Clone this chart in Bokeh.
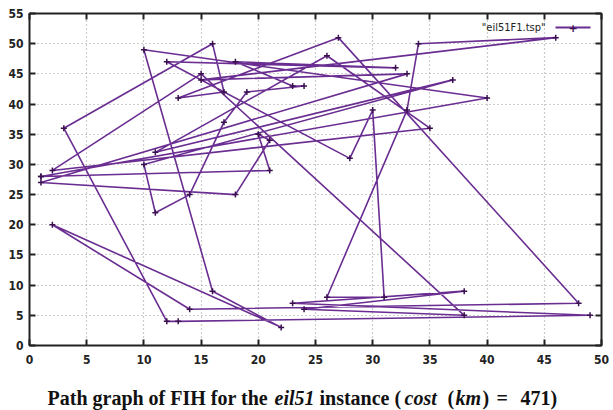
from bokeh.plotting import figure
from bokeh.layouts import column
from bokeh.models import Label, Range1d, FixedTicker, BoxAnnotation, LinearAxis
from bokeh.embed import file_html
from bokeh.resources import INLINE

# tour (x, y) in visiting order
tour_x = [1, 40, 10, 16, 22, 2, 14, 48, 27, 13, 17, 16, 3, 12, 13, 49, 23, 38, 24, 38, 15, 2,
          35, 26, 11, 37, 10, 11, 14, 17, 19, 24, 23, 18, 32, 12, 28, 30, 31, 26, 33, 34, 46, 15,
          33, 1, 18, 21, 20, 21, 1]
tour_y = [28, 41, 49, 9, 3, 20, 6, 7, 51, 41, 42, 50, 36, 4, 4, 5, 7, 9, 6, 5, 45, 29,
          36, 48, 32, 44, 30, 22, 25, 37, 42, 43, 43, 47, 46, 47, 31, 39, 8, 8, 39, 50, 51, 44,
          45, 27, 25, 34, 35, 29, 28]

xticks = [0, 5, 10, 15, 20, 25, 30, 35, 40, 45, 50]
yticks = [0, 5, 10, 15, 20, 25, 30, 35, 40, 45, 50, 55]
series_name = '"eil51F1.tsp"'

chart = figure(width=613, height=370, output_backend="svg", toolbar_location=None,
               x_range=Range1d(0, 50), y_range=Range1d(0, 55),
               min_border_left=29, min_border_right=12, min_border_top=13, min_border_bottom=25)
chart.background_fill_color = "white"
chart.border_fill_color = "white"
chart.outline_line_color = "#222222"
chart.outline_line_width = 2

line_col = "#6a2d91"
chart.line(tour_x, tour_y, line_color=line_col, line_width=1.6)
chart.scatter(tour_x, tour_y, marker="cross", size=6, line_color="#3a1050", line_width=1.5)

# mirrored tick marks on top and right (gnuplot style), without labels
chart.add_layout(LinearAxis(), "above")
chart.add_layout(LinearAxis(), "right")

for ax in chart.xaxis:
    ax.ticker = FixedTicker(ticks=xticks)
for ax in chart.yaxis:
    ax.ticker = FixedTicker(ticks=yticks)
for ax in list(chart.xaxis) + list(chart.yaxis):
    ax.axis_line_color = None
    ax.major_tick_in = 6
    ax.major_tick_out = 0
    ax.minor_tick_line_color = None
    ax.major_tick_line_color = "#222222"
    ax.major_tick_line_width = 2
    ax.major_label_text_font = "DejaVu Sans Condensed"
    ax.major_label_text_font_style = "bold"
    ax.major_label_text_font_size = "12px"
    ax.major_label_text_color = "#222222"
for ax in (chart.above[0], chart.right[0]):
    ax.major_label_text_font_size = "1px"
    ax.major_label_text_color = None
    ax.major_label_standoff = 0
chart.below[0].major_label_standoff = 9
chart.left[0].major_label_standoff = 6

chart.xgrid.ticker = FixedTicker(ticks=xticks)
chart.ygrid.ticker = FixedTicker(ticks=yticks)
for g in (chart.xgrid[0], chart.ygrid[0]):
    g.grid_line_color = "#9a9a9a"
    g.grid_line_dash = "1 3"
    g.grid_line_width = 1.2

# legend (gnuplot style: text then sample); screen units are relative to the frame
chart.add_layout(Label(x=516, y=318, x_units="screen", y_units="screen", text=series_name,
                       text_font="DejaVu Sans Condensed", text_font_size="11px", text_align="right",
                       text_baseline="middle", text_color="#222222"))
chart.add_layout(BoxAnnotation(left=526, right=561, bottom=317, top=319, left_units="screen",
                               right_units="screen", bottom_units="screen", top_units="screen",
                               fill_color=line_col, fill_alpha=1, line_alpha=0))
chart.add_layout(Label(x=543.5, y=318, x_units="screen", y_units="screen", text="+",
                       text_font="DejaVu Sans", text_font_size="11px", text_align="center",
                       text_baseline="middle", text_color="#3a1050", text_font_style="bold"))

# caption strip below the chart (its frame is aligned with the chart frame, 29px from the left)
cap = figure(width=613, height=40, output_backend="svg", toolbar_location=None,
             x_range=Range1d(0, 613), y_range=Range1d(0, 40),
             min_border_left=0, min_border_right=0, min_border_top=0, min_border_bottom=0)
cap.axis.visible = False
cap.grid.visible = False
cap.outline_line_color = None
cap.background_fill_color = "white"
cap.border_fill_color = "white"

parts = [("Path graph of FIH for the", "bold", 18),
         ("eil51", "bold italic", 245),
         ("instance (", "bold", 290),
         ("cost", "bold italic", 375),
         ("(", "bold", 418),
         ("km", "bold italic", 426),
         (")", "bold", 453),
         ("=", "bold", 467),
         ("471)", "bold", 491)]
for txt, style, xpos in parts:
    cap.add_layout(Label(x=xpos, y=13, x_units="screen", y_units="screen", text=txt,
                         text_font="Liberation Serif", text_font_style=style,
                         text_baseline="alphabetic",
                         text_font_size="20px", text_color="#111111"))

p = column(chart, cap, spacing=0)
open("out.html", "w").write(file_html(p, INLINE))
